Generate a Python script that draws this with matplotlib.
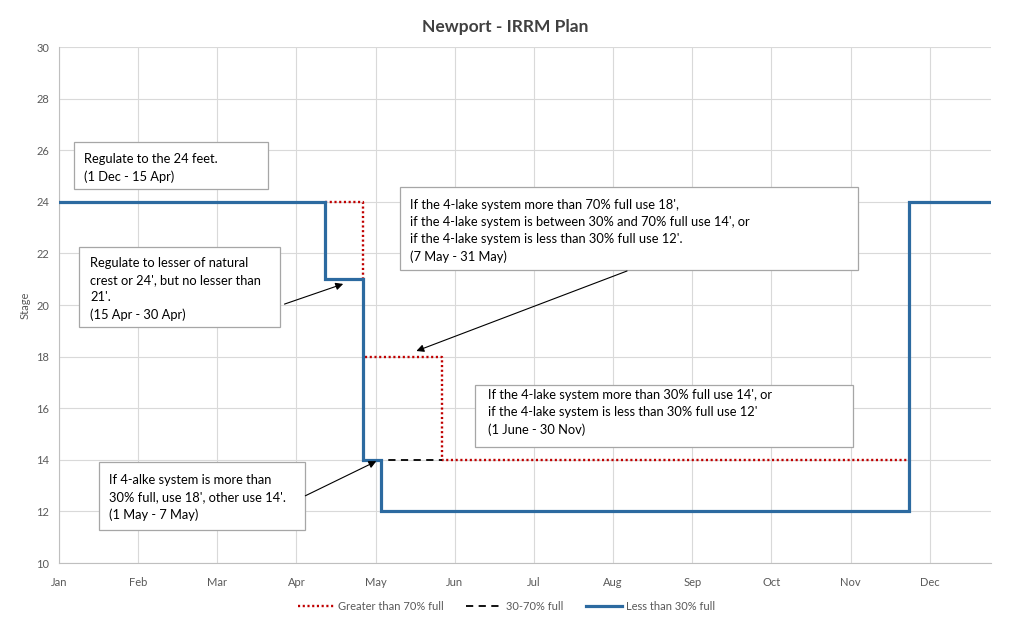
import matplotlib.pyplot as plt
from matplotlib.patches import Rectangle

# stage plan, x in day-of-year (0 = 1 Jan)
blue_days = [0, 104, 104, 119, 119, 126, 126, 333, 333, 365]
blue_stage = [24, 24, 21, 21, 14, 14, 12, 12, 24, 24]

# None breaks the line where the red series is hidden under the blue one
red_days = [104, 119, 119, None, 120, 150, 150, 333]
red_stage = [24, 24, 21, None, 18, 18, 14, 14]

black_days = [119, 150]
black_stage = [14, 14]

tick_days = list(range(0, 365, 31))
tick_labels = ['Jan', 'Feb', 'Mar', 'Apr', 'May', 'Jun',
               'Jul', 'Aug', 'Sep', 'Oct', 'Nov', 'Dec']

notes = [
    "Regulate to the 24 feet.\n(1 Dec - 15 Apr)",
    "Regulate to lesser of natural\ncrest or 24', but no lesser than\n21'.\n(15 Apr - 30 Apr)",
    "If the 4-lake system more than 70% full use 18',\n"
    "if the 4-lake system is between 30% and 70% full use 14', or\n"
    "if the 4-lake system is less than 30% full use 12'.\n(7 May - 31 May)",
    "If the 4-lake system more than 30% full use 14', or\n"
    "if the 4-lake system is less than 30% full use 12'\n(1 June - 30 Nov)",
    "If 4-alke system is more than\n30% full, use 18', other use 14'.\n(1 May - 7 May)",
]

plt.rcParams['font.family'] = ['Lato', 'DejaVu Sans']

fig = plt.figure(figsize=(10.13, 6.24), dpi=100)
ax = fig.add_axes([59/1013, 1-563/624, (991-59)/1013, (563-47)/624])

ax.plot(black_days, black_stage, color='black', lw=1.3, ls=(0, (4, 3)),
        zorder=3, label='30-70% full')
ax.plot(red_days, red_stage, color='#c00000', lw=1.7, ls=(0, (0.9, 1.1)),
        zorder=2, label='Greater than 70% full')
ax.plot(blue_days, blue_stage, color='#2c6aa0', lw=2.3, zorder=4,
        solid_joinstyle='miter', label='Less than 30% full')

ax.set_xlim(0, 365)
ax.set_ylim(10, 30)
ax.set_xticks(tick_days)
ax.set_xticklabels(tick_labels)
ax.set_yticks(range(10, 31, 2))
ax.tick_params(length=0, labelsize=8, colors='#595959')
ax.tick_params(axis='x', pad=10)
ax.tick_params(axis='y', pad=7)
ax.grid(True, color='#d9d9d9', lw=0.8)
ax.set_axisbelow(True)
for s in ['top', 'right']:
    ax.spines[s].set_visible(False)
for s in ['left', 'bottom']:
    ax.spines[s].set_color('#bfbfbf')
ax.set_ylabel('Stage', fontsize=8, color='#595959', labelpad=4)
fig.suptitle('Newport - IRRM Plan', x=0.4985, y=0.97, fontsize=12.5,
             fontweight='bold', color='#404040')


def px(x, y):
    return ((x - 59) / 2.555, (563 - y) / 25.8 + 10)


def box(x0, y0, x1, y1, text, tx, ty):
    a = px(x0, y1)
    b = px(x1, y0)
    ax.add_patch(Rectangle(a, b[0]-a[0], b[1]-a[1], facecolor='white',
                           edgecolor='#a6a6a6', lw=0.9, zorder=5))
    ax.text(*px(tx, ty), text, fontsize=9.3, va='top', ha='left',
            linespacing=1.5, zorder=6)


box(74, 142, 268, 189, notes[0], 84, 153)
box(79, 247, 280, 327, notes[1], 90, 257)
box(400, 187, 858, 270, notes[2], 410, 199)
box(475, 385, 853, 447, notes[3], 488, 389)
box(99, 462, 305, 530, notes[4], 109, 474)

arrow = dict(arrowstyle='-|>', color='black', lw=0.8, mutation_scale=11)
ax.annotate('', xy=px(346, 283), xytext=px(282, 305), arrowprops=arrow, zorder=7)
ax.annotate('', xy=px(414, 352), xytext=px(630, 270), arrowprops=arrow, zorder=7)
ax.annotate('', xy=px(379, 460), xytext=px(303, 497), arrowprops=arrow, zorder=7)

h, l = ax.get_legend_handles_labels()
order = [1, 0, 2]
fig.legend([h[i] for i in order], [l[i] for i in order], loc='center',
           bbox_to_anchor=(0.5, 1-606/624), ncol=3, frameon=False,
           fontsize=8, labelcolor='#595959', handlelength=3.3,
           columnspacing=2.0, handletextpad=0.3)

fig.savefig('out.png', dpi=100)
